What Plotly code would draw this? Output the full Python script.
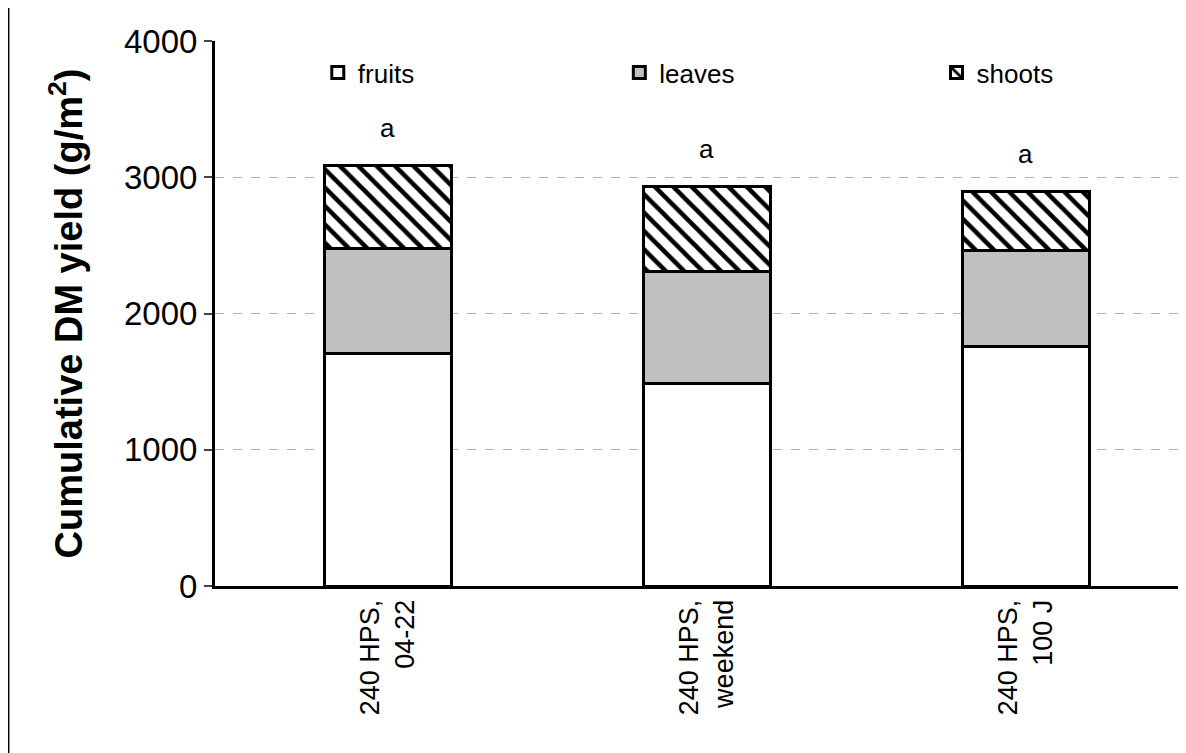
import plotly.graph_objects as go

categories = ["240 HPS,<br>04-22", "240 HPS,<br>weekend", "240 HPS,<br>100 J"]
fruits = [1703, 1487, 1755]
leaves = [773, 818, 706]
shoots = [610, 624, 431]
letters = ["a", "a", "a"]
totals = [f + l + s for f, l, s in zip(fruits, leaves, shoots)]
x = [0, 1, 2]
FONT = "Liberation Sans, Arial, sans-serif"

fig = go.Figure()
line = dict(color="black", width=3)
fig.add_bar(x=x, y=fruits, name="fruits", width=0.4, legend="legend", showlegend=True,
            marker=dict(color="white", line=line))
fig.add_bar(x=x, y=leaves, name="leaves", width=0.4, legend="legend2", showlegend=True,
            marker=dict(color="#c0c0c0", line=line))
fig.add_bar(x=x, y=shoots, name="shoots", width=0.4, legend="legend3", showlegend=True,
            marker=dict(color="white", line=line,
                        pattern=dict(shape="\\", fgcolor="black", fgopacity=1, bgcolor="white",
                                     size=13, solidity=0.35)))
for xi, t, lt in zip(x, totals, letters):
    fig.add_annotation(x=xi, y=t, text=lt, showarrow=False, yshift=38,
                       font=dict(size=26, color="black", family=FONT))

leg = dict(orientation="h", y=0.985, xanchor="left", yanchor="top",
           font=dict(size=26, family=FONT), bgcolor="rgba(0,0,0,0)")
fig.update_layout(
    barmode="stack", width=1186, height=753, plot_bgcolor="white", paper_bgcolor="white",
    margin=dict(l=207, r=0, t=33, b=175), showlegend=True,
    font=dict(family=FONT, color="black"),
    legend=dict(leg, x=0.105),
    legend2=dict(leg, x=0.413),
    legend3=dict(leg, x=0.737),
    xaxis=dict(range=[-0.542, 2.527], tickvals=x, ticktext=categories, tickangle=-90,
               tickfont=dict(size=27, family=FONT), showline=True, linecolor="black", linewidth=3,
               ticks="", showgrid=False),
    yaxis=dict(range=[0, 4000], tickvals=[0, 1000, 2000, 3000, 4000], tickfont=dict(size=33, family=FONT),
               showline=True, linecolor="black", linewidth=3, ticks="outside", ticklen=8,
               tickwidth=2, showgrid=True, gridcolor="#b0b0b0", griddash="dash", gridwidth=1,
               title=dict(text="<b>Cumulative DM yield (g/m<sup>2</sup>)</b>",
                          font=dict(size=38, family=FONT), standoff=30)),
    shapes=[dict(type="rect", xref="paper", yref="paper", x0=-0.211, x1=1, y0=-0.33, y1=1.075,
                 line=dict(color="black", width=2))],
)
fig.write_html("out.html")
